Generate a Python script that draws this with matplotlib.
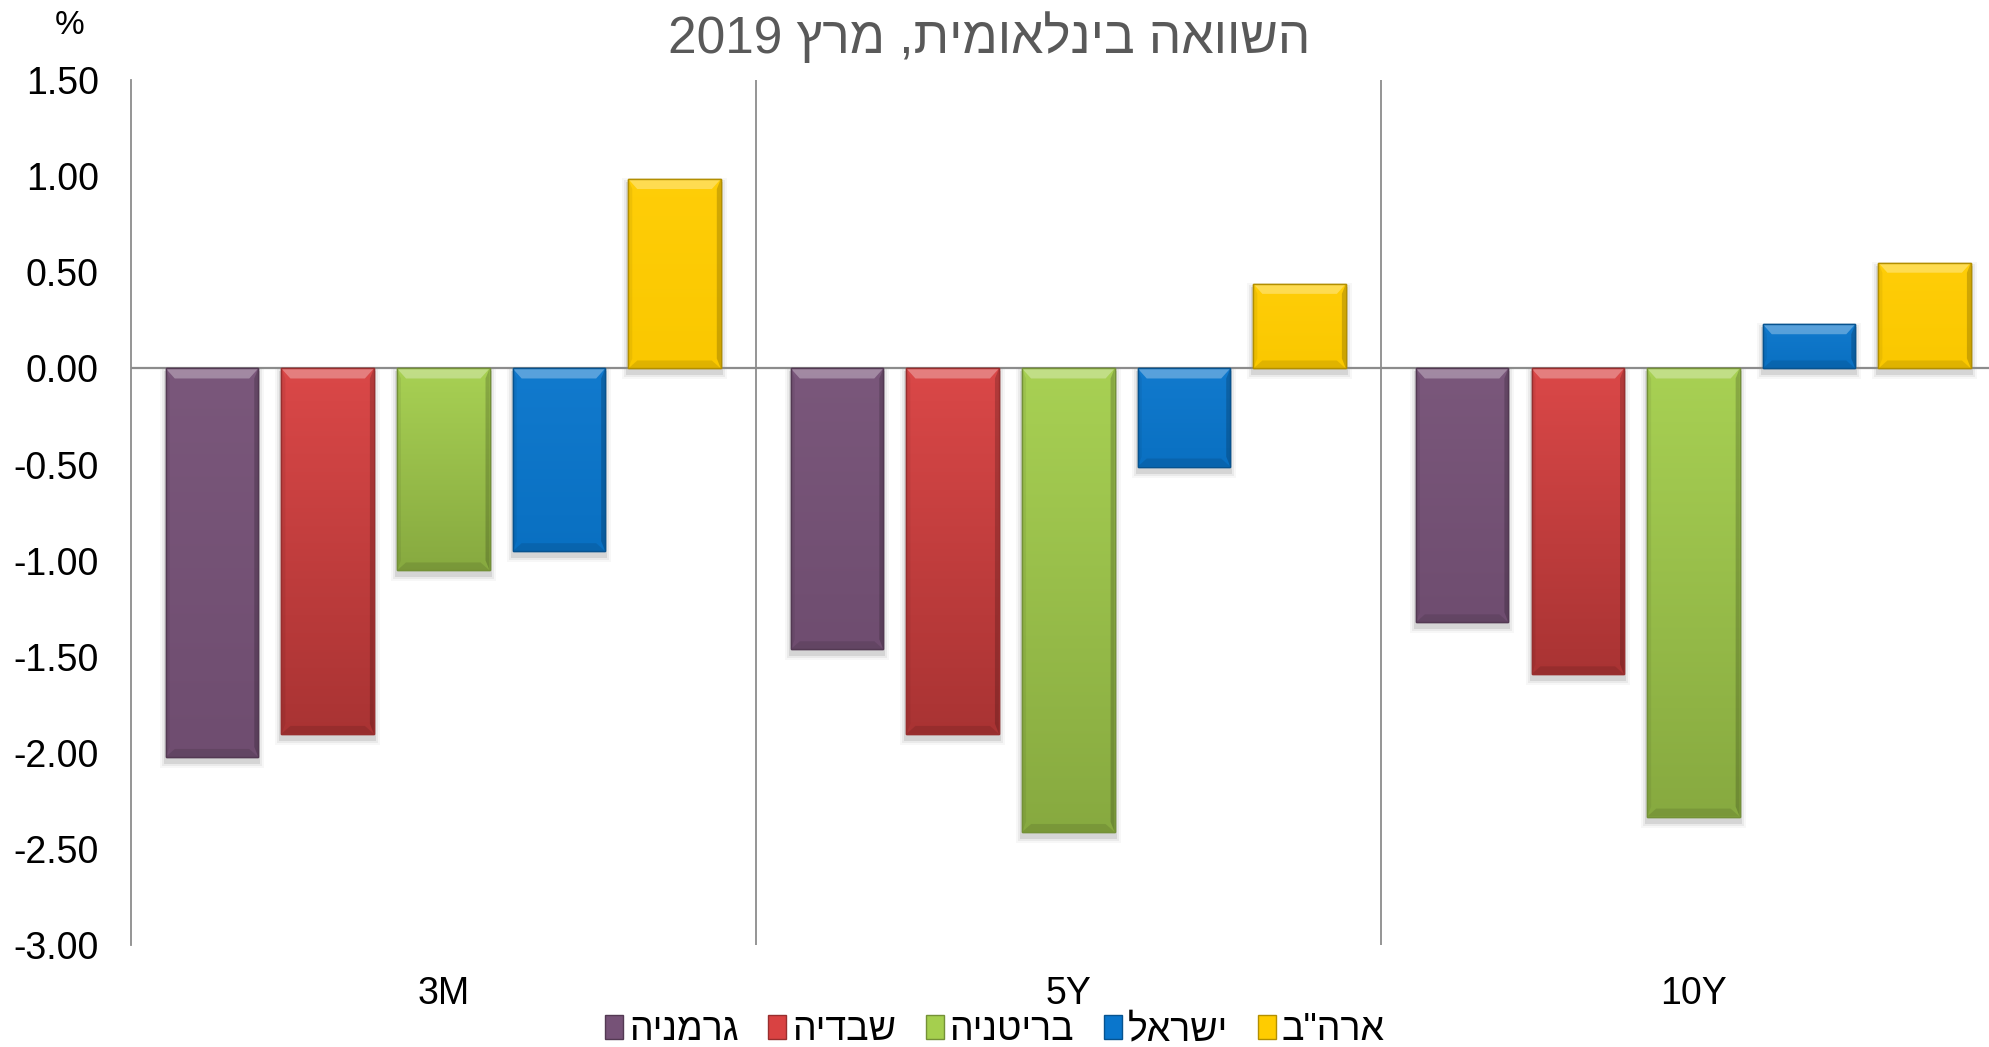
import re
import numpy as np
import matplotlib
matplotlib.use("Agg")
import matplotlib.pyplot as plt
from matplotlib.colors import to_rgb
from matplotlib.patches import Patch, Polygon, Rectangle

plt.rcParams["font.family"] = ["Liberation Sans", "DejaVu Sans"]
plt.rcParams["axes.unicode_minus"] = False

# yield spreads by maturity, %
categories = ["3M", "5Y", "10Y"]
series_names = ["גרמניה", "שבדיה", "בריטניה", "ישראל", 'ארה"ב']
germany = [-2.02, -1.46, -1.32]
sweden = [-1.90, -1.90, -1.59]
britain = [-1.05, -2.41, -2.33]
israel = [-0.95, -0.51, 0.23]
usa = [0.985, 0.44, 0.55]
y_ticks = [1.5, 1.0, 0.5, 0.0, -0.5, -1.0, -1.5, -2.0, -2.5, -3.0]
title = "השוואה בינלאומית, מרץ 2019"

series = [germany, sweden, britain, israel, usa]
colours = ["#765277", "#D94242", "#A5CF4E", "#0A76CC", "#FFCC00"]
shade = [0.06, 0.22, 0.18, 0.05, 0.02]


def visual(s):
    # matplotlib has no bidi, so flip hebrew runs and keep digit runs as they are
    parts = re.split(r"(\d+)", s)
    parts = [p if p.isdigit() else p[::-1] for p in parts if p]
    return "".join(parts[::-1])


def mix(c, other, t):
    a = np.array(to_rgb(c))
    b = np.array(to_rgb(other))
    return tuple((1 - t) * a + t * b)


fig = plt.figure(figsize=(19.9, 10.47), dpi=100)
ax = fig.add_axes([0.0657, 0.097, 0.9423, 0.8266])
ax.set_xlim(-0.5, 2.5)
ax.set_ylim(-3.0, 1.5)

# data units per pixel, used for bevel and shadow sizes
px_x = 3.0 / (0.9423 * 1990)
px_y = 4.5 / (0.8266 * 1047)

width = 0.148
step = 0.185
handles = []
for i, (vals, col) in enumerate(zip(series, colours)):
    xs = np.arange(len(categories)) + (i - 2) * step
    edge = mix(col, "k", 0.3)
    bars = ax.bar(xs, vals, width, color=col, edgecolor=edge, linewidth=1.0, zorder=3)
    for bar, v in zip(bars, vals):
        x0 = bar.get_x()
        x1 = x0 + bar.get_width()
        lo, hi = min(0, v), max(0, v)

        # soft drop shadow
        for k, a in enumerate([0.09, 0.05, 0.03]):
            g = (k + 1) * 2
            ax.add_patch(Rectangle((x0 - g * px_x, lo - (5 + g) * px_y),
                                   (x1 - x0) + 2 * g * px_x, (hi - lo) + 2 * g * px_y,
                                   facecolor="k", alpha=a, lw=0, zorder=2))

        # vertical gradient inside the bar
        t = np.linspace(0, 1, 64)[:, None, None]
        c_top = np.array(mix(col, "w", 0.03))
        c_bot = np.array(mix(col, "k", shade[i]))
        arr = (1 - t) * c_top + t * c_bot
        im = ax.imshow(arr, extent=(x0, x1, lo, hi), aspect="auto", origin="upper",
                       interpolation="bilinear", zorder=3.1)
        im.set_clip_path(bar)

        # bevel edges
        bx = 9 * px_x
        by = 10 * px_y
        if (hi - lo) < 2.2 * by:
            by = (hi - lo) / 2.2
        sx = 4 * px_x
        bevel = [
            ([(x0, hi), (x1, hi), (x1 - bx, hi - by), (x0 + bx, hi - by)], "w", 0.30),
            ([(x0, lo), (x1, lo), (x1 - bx, lo + 0.8 * by), (x0 + bx, lo + 0.8 * by)], "k", 0.10),
            ([(x0, hi), (x0 + sx, hi - by), (x0 + sx, lo + by), (x0, lo)], "k", 0.06),
            ([(x1, hi), (x1 - sx, hi - by), (x1 - sx, lo + by), (x1, lo)], "k", 0.18),
        ]
        for pts, c, a in bevel:
            ax.add_patch(Polygon(pts, closed=True, facecolor=c, alpha=a, lw=0, zorder=3.2))
        ax.add_patch(Rectangle((x0, lo), x1 - x0, hi - lo, facecolor="none",
                               edgecolor=edge, lw=1.0, zorder=3.3))
    handles.append(Patch(facecolor=col, edgecolor=edge, linewidth=1.0))

ax.set_xlim(-0.5, 2.5)
ax.set_ylim(-3.0, 1.5)

grey = "#8C8C8C"
ax.axhline(0, color=grey, lw=1.6, zorder=2.5)
for sep in [0.5, 1.5]:
    ax.axvline(sep, color=grey, lw=1.3, zorder=1)

for side in ["top", "right", "bottom"]:
    ax.spines[side].set_visible(False)
ax.spines["left"].set_color(grey)
ax.spines["left"].set_linewidth(1.3)

ax.set_yticks(y_ticks)
ax.set_yticklabels([f"{v:.2f}" for v in y_ticks])
ax.set_xticks(range(len(categories)))
ax.set_xticklabels(categories)
ax.tick_params(axis="y", length=0, pad=23, labelsize=27, labelcolor="black")
ax.tick_params(axis="x", length=0, pad=22, labelsize=27, labelcolor="black")

fig.text(0.035, 0.976, "%", ha="center", va="center", fontsize=24)
fig.text(0.497, 0.964, visual(title), ha="center", va="center", fontsize=37, color="#595959")

fig.legend(handles, [visual(n) for n in series_names], loc="center",
           bbox_to_anchor=(0.5, 0.016), ncol=5, frameon=False, fontsize=27,
           handlelength=0.48, handleheight=0.62, handletextpad=0.15, columnspacing=0.8,
           borderpad=0.2)

fig.savefig("out.png", dpi=100)
